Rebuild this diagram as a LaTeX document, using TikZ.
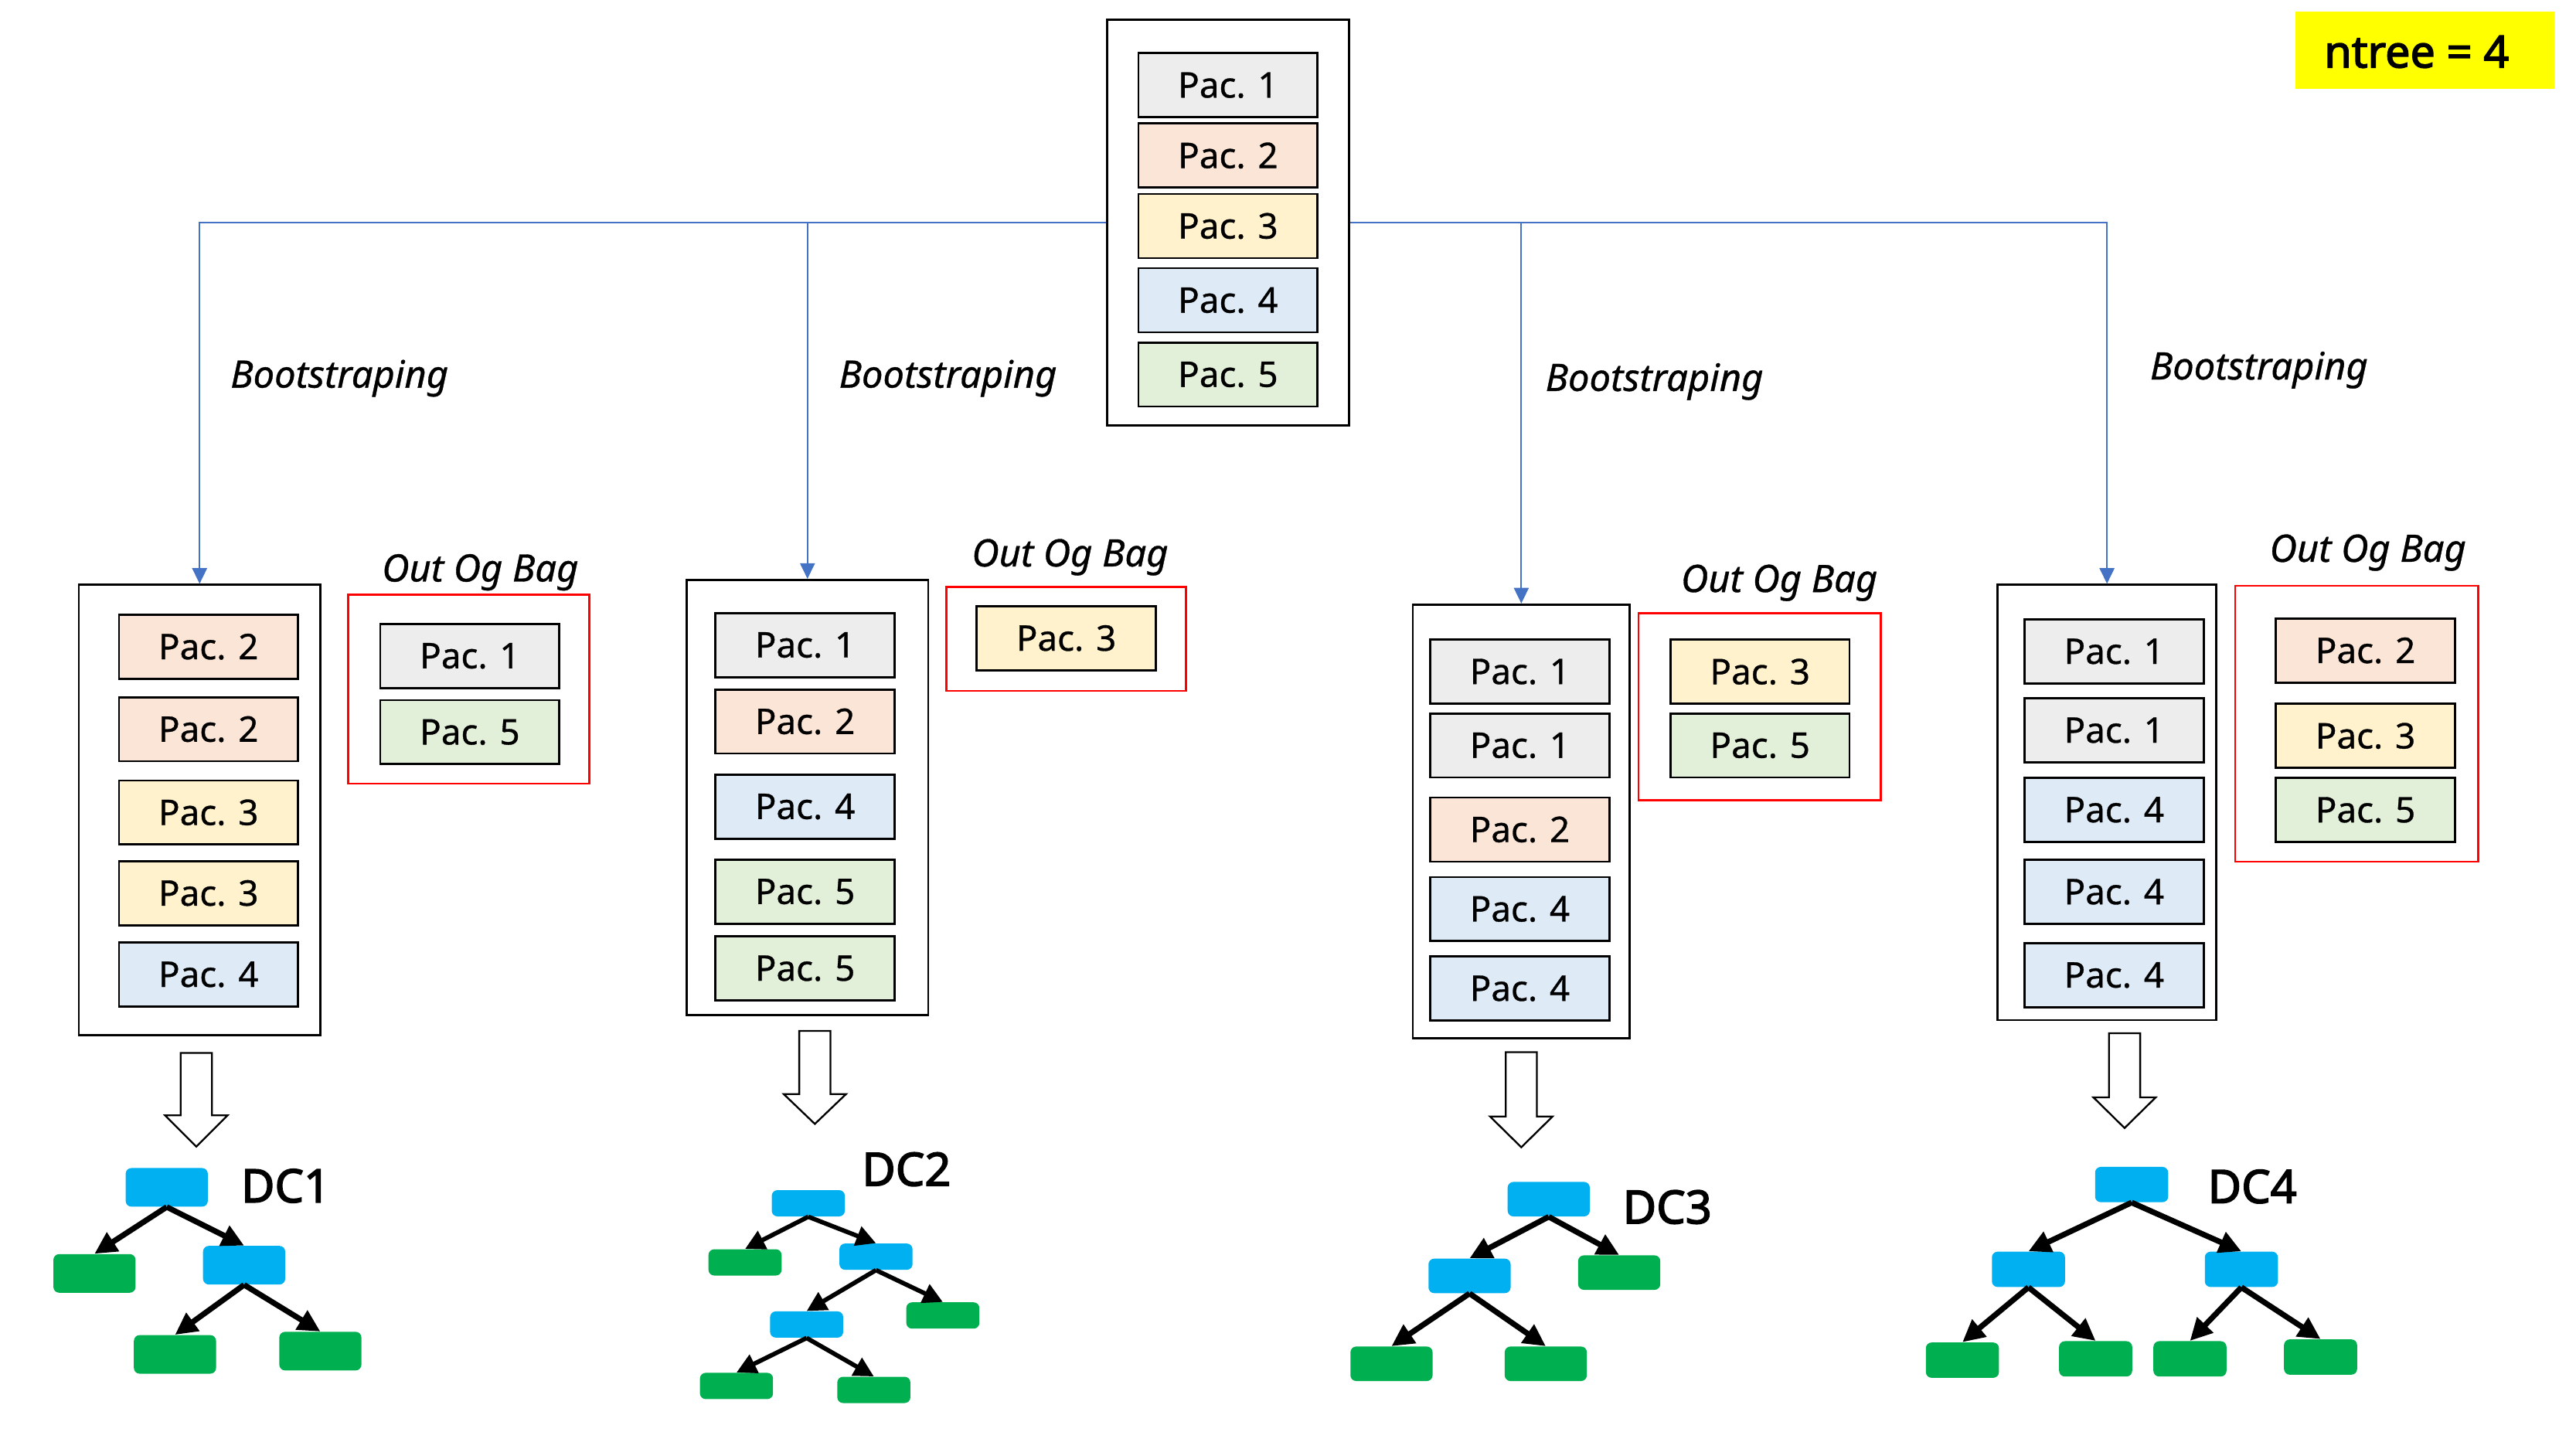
\documentclass[tikz,border=0pt]{standalone}
\usepackage{fontspec}
\setmainfont{Noto Sans}[AutoFakeBold=2.6]
\newfontfamily\pacfont{Noto Sans}[FakeBold=0.7,AutoFakeBold=2.6]
\usetikzlibrary{arrows.meta}
\definecolor{pa}{HTML}{EDEDED}
\definecolor{pb}{HTML}{FBE5D6}
\definecolor{pc}{HTML}{FFF2CC}
\definecolor{pd}{HTML}{DEEBF7}
\definecolor{pe}{HTML}{E2F0D9}
\definecolor{connblue}{HTML}{4472C4}
\definecolor{treeblue}{HTML}{00B0F0}
\definecolor{treegreen}{HTML}{00B050}
\definecolor{oobred}{HTML}{FF0000}
\definecolor{ntyellow}{HTML}{FFFF00}
\newcommand\mypac[5]{\node[pac,fill=#2] (#1) at (#3,#4) {Pac. #5};}
\newcommand\myblockarrow[4]{%
  \draw[barrow] ({#1-9.5},#2) -- ({#1+9.5},#2) -- ({#1+9.5},#3) -- ({#1+19},#3)
    -- (#1,#4) -- ({#1-19},#3) -- ({#1-9.5},#3) -- cycle;}
\begin{document}
\begin{tikzpicture}[x=1pt,y=-1pt,
  pac/.style={draw=black,line width=1.3pt,minimum width=109pt,minimum height=39pt,inner sep=0pt,
    font=\pacfont\fontsize{21.5}{24}\selectfont},
  holder/.style={draw=black,line width=1.3pt,inner sep=0pt},
  oob/.style={draw=oobred,line width=1.3pt,inner sep=0pt},
  lbl/.style={font=\pacfont\fontsize{23}{26}\selectfont\itshape,anchor=base,inner sep=0pt},
  conn/.style={draw=connblue,line width=1pt,-{Triangle[length=9.5pt,width=9pt]}},
  tb/.style={fill=treeblue,rounded corners=3.5pt,inner sep=0pt},
  tg/.style={fill=treegreen,rounded corners=3.5pt,inner sep=0pt},
  tarr/.style={line width=3.4pt,-{Triangle[length=13.5pt,width=13pt]}},
  dc/.style={font=\fontsize{28}{30}\selectfont\bfseries,anchor=base west,inner sep=0pt},
  barrow/.style={draw=black,line width=1.1pt,fill=white,line join=miter}]
\useasboundingbox (0,0) rectangle (1568,882);

% ntree
\node[fill=ntyellow,minimum width=158pt,minimum height=47pt,inner sep=0pt] (nt) at (1476,30.5) {};
\node[font=\fontsize{27}{30}\selectfont\bfseries,anchor=base,inner sep=0pt] (ntt) at (1471,41.1) {ntree = 4};

% top box
\node[holder,minimum width=147pt,minimum height=247pt] (top) at (747.5,135.5) {};
\mypac{t1}{pa}{747.5}{51.9}{1}
\mypac{t2}{pb}{747.5}{94.7}{2}
\mypac{t3}{pc}{747.5}{137.6}{3}
\mypac{t4}{pd}{747.5}{182.8}{4}
\mypac{t5}{pe}{747.5}{228}{5}

% column holders
\node[holder,minimum width=147pt,minimum height=274pt] (h1) at (121.5,493) {};
\node[holder,minimum width=147pt,minimum height=265pt] (h2) at (491.5,485.5) {};
\node[holder,minimum width=132pt,minimum height=264pt] (h3) at (926,500) {};
\node[holder,minimum width=133pt,minimum height=265pt] (h4) at (1282.5,488.5) {};

% connectors
\draw[conn] (top.west) -| (h1.north);
\draw[conn] (top.west) -| (h2.north);
\draw[conn] (top.east) -| (h3.north);
\draw[conn] (top.east) -| (h4.north);

\node[lbl] (bs1) at (206.6,236) {Bootstraping};
\node[lbl] (bs2) at (577,236) {Bootstraping};
\node[lbl] (bs3) at (1007,238) {Bootstraping};
\node[lbl] (bs4) at (1375,231) {Bootstraping};

% column 1
\mypac{a1}{pb}{126.9}{393.7}{2}
\mypac{a2}{pb}{126.9}{443.9}{2}
\mypac{a3}{pc}{126.9}{494.6}{3}
\mypac{a4}{pc}{126.9}{543.7}{3}
\mypac{a5}{pd}{126.9}{593.2}{4}
\node[oob,minimum width=146.6pt,minimum height=115pt] (r1) at (285.3,419.5) {};
\mypac{ao1}{pa}{286}{399.3}{1}
\mypac{ao2}{pe}{286}{445.7}{5}
\node[lbl] (ob1) at (292.3,354) {Out Og Bag};

% column 2
\mypac{b1}{pa}{490}{392.7}{1}
\mypac{b2}{pb}{490}{439.2}{2}
\mypac{b3}{pd}{490}{491}{4}
\mypac{b4}{pe}{490}{542.8}{5}
\mypac{b5}{pe}{490}{589.5}{5}
\node[oob,minimum width=146pt,minimum height=63.2pt] (r2) at (649,389) {};
\mypac{bo1}{pc}{649}{388.5}{3}
\node[lbl] (ob2) at (651.3,344.8) {Out Og Bag};

% column 3
\mypac{c1}{pa}{925.1}{408.9}{1}
\mypac{c2}{pa}{925.1}{453.8}{1}
\mypac{c3}{pb}{925.1}{505}{2}
\mypac{c4}{pd}{925.1}{553.4}{4}
\mypac{c5}{pd}{925.1}{601.7}{4}
\node[oob,minimum width=147.4pt,minimum height=113.8pt] (r3) at (1071,430.1) {};
\mypac{co1}{pc}{1071.3}{408.9}{3}
\mypac{co2}{pe}{1071.3}{453.8}{5}
\node[lbl] (ob3) at (1083,360.4) {Out Og Bag};

% column 4
\mypac{e1}{pa}{1286.8}{396.6}{1}
\mypac{e2}{pa}{1286.8}{444.6}{1}
\mypac{e3}{pd}{1286.8}{493}{4}
\mypac{e4}{pd}{1286.8}{542.9}{4}
\mypac{e5}{pd}{1286.8}{593.6}{4}
\node[oob,minimum width=148pt,minimum height=168pt] (r4) at (1434.5,440.6) {};
\mypac{eo1}{pb}{1439.8}{396}{2}
\mypac{eo2}{pc}{1439.8}{448}{3}
\mypac{eo3}{pe}{1439.8}{493.1}{5}
\node[lbl] (ob4) at (1441.3,342) {Out Og Bag};

% block arrows
\myblockarrow{119.5}{641}{679}{698}
\myblockarrow{496}{627.6}{666}{684.2}
\myblockarrow{926}{640.5}{679.7}{698.4}
\myblockarrow{1293.2}{629}{668}{686.7}

% DC1
\begin{scope}[every node/.append style={minimum width=50pt,minimum height=23.5pt}]
\node[tb] (d1r) at (101.5,722.8) {};
\node[tg] (d1l) at (57.5,775.2) {};
\node[tb] (d1m) at (148.6,770.2) {};
\node[tg] (d1a) at (106.5,824.5) {};
\node[tg] (d1b) at (195,822.5) {};
\end{scope}
\draw[tarr] (d1r.south) -- (d1l.north);
\draw[tarr] (d1r.south) -- (d1m.north);
\draw[tarr] (d1m.south) -- (d1a.north);
\draw[tarr] (d1m.south) -- (d1b.north);
\node[dc] (dc1) at (146.6,731.9) {DC1};

% DC2
\begin{scope}[every node/.append style={minimum width=44.5pt,minimum height=16pt}]
\node[tb] (d2r) at (492,732.5) {};
\node[tg] (d2l) at (453.5,768.5) {};
\node[tb] (d2m) at (533.2,765) {};
\node[tb] (d2n) at (491,806.3) {};
\node[tg] (d2g) at (573.9,800.8) {};
\node[tg] (d2a) at (448.3,843.7) {};
\node[tg] (d2b) at (531.9,846.1) {};
\end{scope}
\begin{scope}[tarr/.append style={line width=2.7pt,-{Triangle[length=12pt,width=12pt]}}]
\draw[tarr] (d2r.south) -- (d2l.north);
\draw[tarr] (d2r.south) -- (d2m.north);
\draw[tarr] (d2m.south) -- (d2n.north);
\draw[tarr] (d2m.south) -- (d2g.north);
\draw[tarr] (d2n.south) -- (d2a.north);
\draw[tarr] (d2n.south) -- (d2b.north);
\end{scope}
\node[dc] (dc2) at (524.5,721.8) {DC2};

% DC3
\begin{scope}[every node/.append style={minimum width=50pt,minimum height=21pt}]
\node[tb] (d3r) at (942.7,730) {};
\node[tb] (d3m) at (894.5,776.7) {};
\node[tg] (d3g) at (985.6,774.7) {};
\node[tg] (d3a) at (847,830.2) {};
\node[tg] (d3b) at (940.9,830.2) {};
\end{scope}
\draw[tarr] (d3r.south) -- (d3m.north);
\draw[tarr] (d3r.south) -- (d3g.north);
\draw[tarr] (d3m.south) -- (d3a.north);
\draw[tarr] (d3m.south) -- (d3b.north);
\node[dc] (dc3) at (987.6,744.8) {DC3};

% DC4
\begin{scope}[every node/.append style={minimum width=44.5pt,minimum height=21.5pt}]
\node[tb] (d4r) at (1297.5,721.1) {};
\node[tb] (d4l) at (1234.7,772.7) {};
\node[tb] (d4m) at (1364.3,772.7) {};
\node[tg] (d4a) at (1194.5,828) {};
\node[tg] (d4b) at (1275.6,827.2) {};
\node[tg] (d4c) at (1333,827.2) {};
\node[tg] (d4d) at (1412.5,826.1) {};
\end{scope}
\draw[tarr] (d4r.south) -- (d4l.north);
\draw[tarr] (d4r.south) -- (d4m.north);
\draw[tarr] (d4l.south) -- (d4a.north);
\draw[tarr] (d4l.south) -- (d4b.north);
\draw[tarr] (d4m.south) -- (d4c.north);
\draw[tarr] (d4m.south) -- (d4d.north);
\node[dc] (dc4) at (1343.7,732.3) {DC4};
\end{tikzpicture}
\end{document}
